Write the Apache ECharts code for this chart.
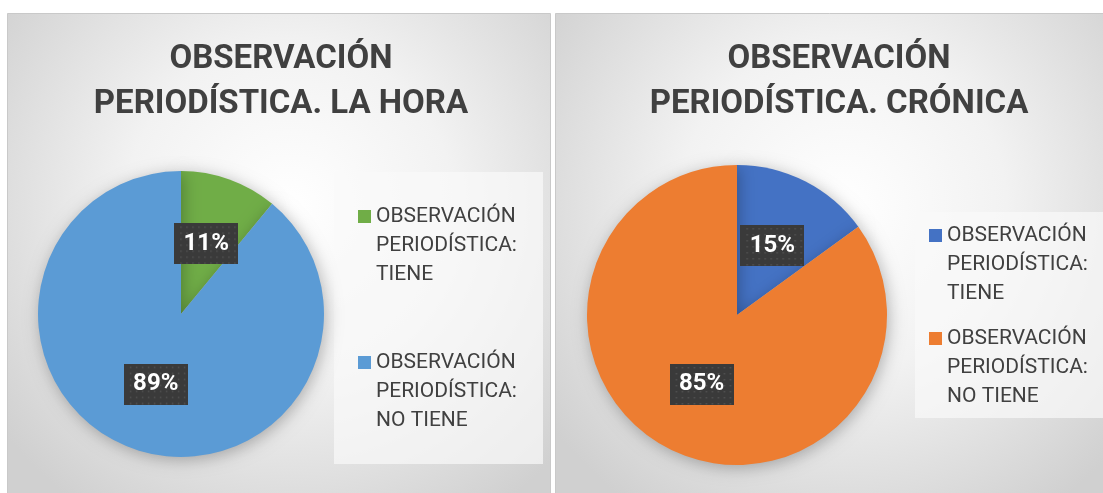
<!DOCTYPE html>
<html>
<head>
<meta charset="utf-8">
<script src="https://cdn.jsdelivr.net/npm/echarts@6/dist/echarts.min.js"></script>
<style>
  html, body { margin: 0; padding: 0; background: #fff; }
  #chart { width: 1103px; height: 493px; }
</style>
</head>
<body>
<div id="chart"></div>
<script>
// two Excel-style pies side by side: La Hora / Crónica
var categories = ['OBSERVACIÓN PERIODÍSTICA: TIENE', 'OBSERVACIÓN PERIODÍSTICA: NO TIENE'];
var laHoraValues = [11, 89];
var cronicaValues = [15, 85];
var titles = ['OBSERVACIÓN\nPERIODÍSTICA. LA HORA', 'OBSERVACIÓN\nPERIODÍSTICA. CRÓNICA'];

var laHoraColors = ['#70ad47', '#5b9bd5'];
var cronicaColors = ['#4472c4', '#ed7d31'];

// dark dotted box behind the percent labels
function dotBox(w, h) {
    var c = document.createElement('canvas');
    c.width = w; c.height = h;
    var g = c.getContext('2d');
    g.fillStyle = '#3a3a3a';
    g.fillRect(0, 0, w, h);
    g.fillStyle = 'rgba(255,255,255,0.13)';
    for (var y = 3; y < h; y += 6) {
        for (var x = ((y / 6) % 2 ? 6 : 3); x < w; x += 6) {
            g.fillRect(x, y, 1.5, 1.5);
        }
    }
    return c;
}
var boxImg = dotBox(64, 41);

// legend text: 3 lines, first line level with the square.
// two blank lines on top so the centred block puts line 1 on the icon
function legendName(name) {
    return '\n\n' + name.replace('N P', 'N\nP').replace(': ', ':\n');
}

function panelFill() {
    return {
        type: 'radial', x: 0.52, y: 0.4, r: 0.75,
        colorStops: [
            { offset: 0, color: '#ffffff' },
            { offset: 0.45, color: '#f2f2f2' },
            { offset: 1, color: '#d0d0d0' }
        ]
    };
}

function pieLabel() {
    return {
        show: true,
        position: 'inside',
        formatter: function (p) { return p.value + '%'; },
        color: '#ffffff',
        fontFamily: 'Roboto, sans-serif',
        fontSize: 24,
        fontWeight: 'bold',
        width: 48,
        height: 23,
        lineHeight: 23,
        align: 'center',
        padding: [9, 8, 9, 8],
        backgroundColor: { image: boxImg },
        shadowColor: 'rgba(0,0,0,0.45)',
        shadowBlur: 4,
        shadowOffsetX: 2,
        shadowOffsetY: 2
    };
}

function pieData(values, colors) {
    var out = [];
    for (var i = 0; i < values.length; i++) {
        out.push({ name: categories[i], value: values[i], itemStyle: { color: colors[i] } });
    }
    return out;
}

function legendData(colors) {
    var out = [];
    for (var i = 0; i < categories.length; i++) {
        out.push({ name: categories[i], itemStyle: { color: colors[i] } });
    }
    return out;
}

var legendText = {
    fontFamily: 'Roboto, sans-serif',
    fontSize: 21,
    lineHeight: 29,
    color: '#404040'
};

var titleText = {
    fontFamily: 'Roboto, sans-serif',
    fontSize: 33,
    fontWeight: 'bold',
    lineHeight: 45,
    color: '#404040'
};

var chart = echarts.init(document.getElementById('chart'), null, { renderer: 'canvas' });

chart.setOption({
    backgroundColor: '#ffffff',
    animation: false,
    graphic: {
        elements: [
            { type: 'rect', z: -10, shape: { x: 7.5, y: 13.5, width: 543, height: 485 },
              style: { fill: panelFill(), stroke: '#c9c9c9', lineWidth: 1 } },
            { type: 'rect', z: -10, shape: { x: 555.5, y: 13.5, width: 552, height: 485 },
              style: { fill: panelFill(), stroke: '#c9c9c9', lineWidth: 1 } },
            { type: 'rect', z: -9, shape: { x: 334, y: 172, width: 209, height: 292 },
              style: { fill: 'rgba(250,250,250,0.7)' } },
            { type: 'rect', z: -9, shape: { x: 915, y: 212, width: 190, height: 206 },
              style: { fill: 'rgba(250,250,250,0.7)' } }
        ]
    },
    title: [
        { text: titles[0], left: 281, top: 37, textAlign: 'center', padding: 0, textStyle: titleText },
        { text: titles[1], left: 839, top: 37, textAlign: 'center', padding: 0, textStyle: titleText }
    ],
    legend: [
        {
            data: legendData(laHoraColors),
            orient: 'vertical', left: 358, top: 144, padding: 0,
            itemWidth: 13, itemHeight: 13, itemGap: 1,
            icon: 'rect', selectedMode: false,
            formatter: legendName, textStyle: legendText
        },
        {
            data: legendData(cronicaColors),
            orient: 'vertical', left: 929, top: 163, padding: 0,
            itemWidth: 13, itemHeight: 13, itemGap: -42,
            icon: 'rect', selectedMode: false,
            formatter: legendName, textStyle: legendText
        }
    ],
    series: [
        {
            type: 'pie',
            center: [181, 314],
            radius: 143,
            startAngle: 90,
            clockwise: true,
            label: pieLabel(),
            labelLine: { show: false },
            itemStyle: { borderWidth: 0, shadowBlur: 16, shadowColor: 'rgba(0,0,0,0.28)', shadowOffsetX: 2, shadowOffsetY: 3 },
            emphasis: { disabled: true },
            data: pieData(laHoraValues, laHoraColors)
        },
        {
            type: 'pie',
            center: [737, 315],
            radius: 150,
            startAngle: 90,
            clockwise: true,
            label: pieLabel(),
            labelLine: { show: false },
            itemStyle: { borderWidth: 0, shadowBlur: 16, shadowColor: 'rgba(0,0,0,0.28)', shadowOffsetX: 2, shadowOffsetY: 3 },
            emphasis: { disabled: true },
            data: pieData(cronicaValues, cronicaColors)
        }
    ]
});
</script>
</body>
</html>
